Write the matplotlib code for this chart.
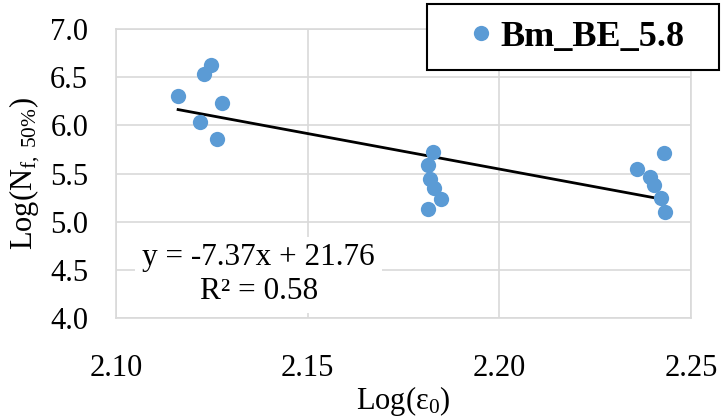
import numpy as np
import matplotlib
matplotlib.use("Agg")
import matplotlib.pyplot as plt
import matplotlib.ticker as mticker

# ---------------------------------------------------------------------------
# Data
# ---------------------------------------------------------------------------
log_strain = [2.1162, 2.1230, 2.1249, 2.1220, 2.1277, 2.1264,
              2.1826, 2.1813, 2.1820, 2.1830, 2.1848, 2.1813,
              2.2429, 2.2360, 2.2392, 2.2404, 2.2422, 2.2433]
log_life = [6.30, 6.53, 6.63, 6.03, 6.23, 5.86,
            5.72, 5.59, 5.44, 5.35, 5.24, 5.13,
            5.71, 5.55, 5.46, 5.38, 5.25, 5.10]

series_name = "Bm_BE_5.8"
slope, intercept, r2 = -7.37, 21.76, 0.58

x_ticks = [2.10, 2.15, 2.20, 2.25]
y_ticks = [4.0, 4.5, 5.0, 5.5, 6.0, 6.5, 7.0]

# ---------------------------------------------------------------------------
# Style
# ---------------------------------------------------------------------------
plt.rcParams["font.family"] = ["Liberation Serif", "DejaVu Serif"]
plt.rcParams["mathtext.fontset"] = "custom"
plt.rcParams["mathtext.rm"] = "Liberation Serif"
plt.rcParams["mathtext.it"] = "Liberation Serif:italic"

BLUE = "#5b9bd5"
GRID = "#d9d9d9"

fig = plt.figure(figsize=(7.21, 4.20), dpi=100)
ax = fig.add_axes([116 / 721, 1 - 318 / 420, 575 / 721, 289 / 420])

ax.plot(log_strain, log_life, "o", color=BLUE, ms=11, mec="none",
        label=series_name, zorder=3)

# linear trendline over the data range
xs = np.array([min(log_strain), max(log_strain)])
ax.plot(xs, slope * xs + intercept, color="black", lw=2.0, zorder=2)

ax.set_xlim(2.10, 2.25)
ax.set_ylim(4.0, 7.0)
ax.set_xticks(x_ticks)
ax.set_yticks(y_ticks)
ax.xaxis.set_major_formatter(mticker.FormatStrFormatter("%.2f"))
ax.yaxis.set_major_formatter(mticker.FormatStrFormatter("%.1f"))
ax.tick_params(axis="both", length=0, labelsize=22)
ax.tick_params(axis="x", pad=26)
ax.tick_params(axis="y", pad=20)

ax.grid(True, color=GRID, lw=1.2, zorder=0)
ax.set_axisbelow(True)
for s in ax.spines.values():
    s.set_color(GRID)
    s.set_linewidth(1.2)

ax.set_xlabel(r"Log(ε$_{\mathregular{0}}$)", fontsize=22)
ax.xaxis.set_label_coords(0.5, -0.23)
ax.set_ylabel(r"Log(N$_{\mathregular{f,\ 50\%}}$)", fontsize=22)
ax.yaxis.set_label_coords(-0.128, 0.5)

# equation label with white fill
ax.text(2.1372, 4.45, f"y = {slope:.2f}x + {intercept:.2f}\nR² = {r2:.2f}",
        fontsize=22.5, ha="center", va="center", linespacing=1.2,
        bbox=dict(facecolor="white", edgecolor="none", pad=5), zorder=4)

# legend box: fixed width, content on the left
leg = ax.legend(loc="upper left", mode="expand",
                bbox_to_anchor=(427 / 721, 1 - 70 / 420, 292 / 721, 66 / 420),
                bbox_transform=fig.transFigure,
                prop={"weight": "bold", "size": 26}, handlelength=2.1,
                handletextpad=-0.53, borderpad=0.45, borderaxespad=0,
                fancybox=False, framealpha=1)
leg.get_frame().set_edgecolor("black")
leg.get_frame().set_linewidth(1.5)

fig.savefig("out.png", dpi=100)
